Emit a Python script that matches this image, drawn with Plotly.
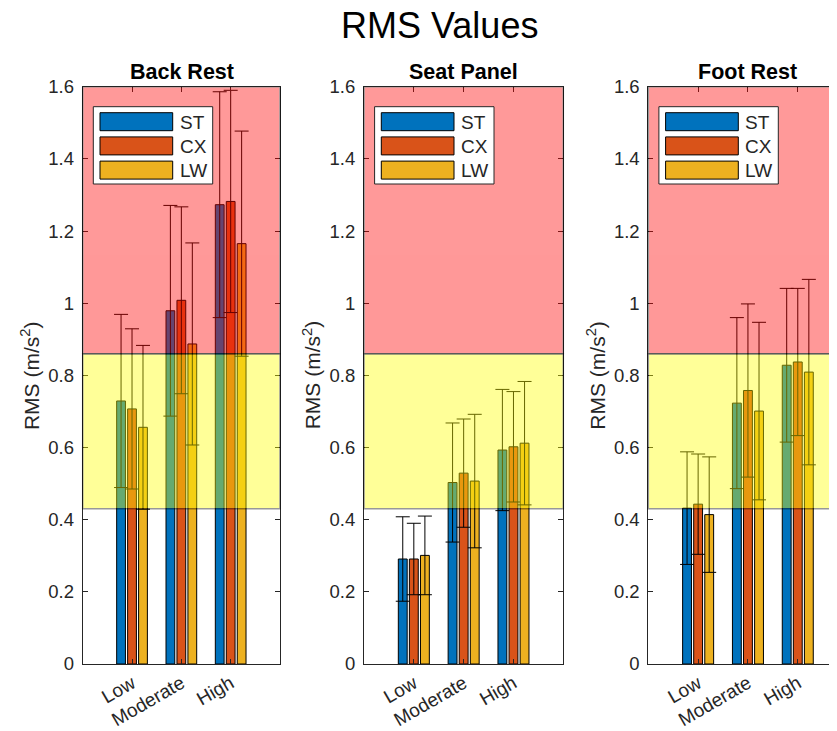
import plotly.graph_objects as go

# ---------------- data ----------------
categories = ["Low", "Moderate", "High"]
series_names = ["ST", "CX", "LW"]
panel_titles = ["Back Rest", "Seat Panel", "Foot Rest"]

back_st = [0.729, 0.979, 1.273]
back_cx = [0.707, 1.008, 1.282]
back_lw = [0.656, 0.887, 1.165]
back_st_err = [0.240, 0.292, 0.313]
back_cx_err = [0.222, 0.259, 0.308]
back_lw_err = [0.227, 0.280, 0.312]

seat_st = [0.291, 0.503, 0.593]
seat_cx = [0.291, 0.529, 0.602]
seat_lw = [0.301, 0.507, 0.612]
seat_st_err = [0.117, 0.165, 0.168]
seat_cx_err = [0.099, 0.150, 0.153]
seat_lw_err = [0.109, 0.185, 0.171]

foot_st = [0.432, 0.723, 0.828]
foot_cx = [0.443, 0.758, 0.837]
foot_lw = [0.414, 0.701, 0.809]
foot_st_err = [0.156, 0.237, 0.213]
foot_cx_err = [0.139, 0.240, 0.204]
foot_lw_err = [0.160, 0.246, 0.257]

caution_zone = [0.43, 0.86]
danger_zone = [0.86, 1.6]
y_ticks = [0, 0.2, 0.4, 0.6, 0.8, 1.0, 1.2, 1.4, 1.6]

# ---------------- style ----------------
PAGE_OFF = 8  # default body margin of the html page
W, H = 837 - PAGE_OFF, 731 - PAGE_OFF
colors = ["#0072BD", "#D95319", "#EDB120"]
axis_col = "#262626"
font_family = "Liberation Sans, Arial, sans-serif"

# panel pixel geometry in window coordinates
panels_px = [(82.7, 280.0), (364.0, 563.3), (648.3, 837.0)]
unit_px = (563.3 - 364.0) / 4
x_ranges = [[0, 4], [0, 4], [0, (837.0 - 648.3) / unit_px]]
top_px, bot_px = 86.7, 664.0


def px(x):
    return (x - PAGE_OFF) / W


def py(y):
    return 1 - (y - PAGE_OFF) / H


panel_data = [
    ([back_st, back_cx, back_lw], [back_st_err, back_cx_err, back_lw_err]),
    ([seat_st, seat_cx, seat_lw], [seat_st_err, seat_cx_err, seat_lw_err]),
    ([foot_st, foot_cx, foot_lw], [foot_st_err, foot_cx_err, foot_lw_err]),
]

fig = go.Figure()
xpos = [1, 2, 3]

for p, (vals, errs) in enumerate(panel_data):
    sfx = "" if p == 0 else str(p + 1)
    for s in range(3):
        fig.add_trace(go.Bar(
            x=xpos, y=vals[s], name=series_names[s],
            marker=dict(color=colors[s], line=dict(color="black", width=1)),
            error_y=dict(type="data", array=errs[s], visible=True,
                         color="black", thickness=1, width=7),
            xaxis="x" + sfx, yaxis="y" + sfx, showlegend=False,
        ))

layout = dict(
    width=W, height=H,
    margin=dict(l=0, r=0, t=0, b=0, pad=0, autoexpand=False),
    paper_bgcolor="white", plot_bgcolor="white",
    barmode="group", bargap=0.333, bargroupgap=0.2,
    font=dict(family=font_family, color=axis_col),
    showlegend=False,
)

shapes = []
annotations = []

for p in range(3):
    sfx = "" if p == 0 else str(p + 1)
    l, r = panels_px[p]
    layout["xaxis" + sfx] = dict(
        domain=[px(l), min(px(r), 1.0)], anchor="y" + sfx, range=x_ranges[p],
        tickvals=xpos, ticktext=categories, tickangle=-30,
        ticks="inside", ticklen=5, tickcolor=axis_col,
        showline=True, linecolor=axis_col, linewidth=1, mirror="ticks",
        showgrid=False, zeroline=False, automargin=False,
        tickfont=dict(size=19, color=axis_col, family=font_family),
    )
    layout["yaxis" + sfx] = dict(
        domain=[py(bot_px), py(top_px)], anchor="x" + sfx, range=[0, 1.6],
        tickvals=y_ticks, ticks="inside", ticklen=5, tickcolor=axis_col,
        showline=True, linecolor=axis_col, linewidth=1,
        mirror=("ticks" if p < 2 else False),
        showgrid=False, zeroline=False, ticklabelstandoff=4, automargin=False,
        tickfont=dict(size=18.5, color=axis_col, family=font_family),
    )

    # comfort zones overlaid on the bars
    for (z0, z1), zc in ((caution_zone, "yellow"), (danger_zone, "red")):
        shapes.append(dict(
            type="rect", xref="x" + sfx + " domain", yref="y" + sfx,
            x0=0, x1=1, y0=z0, y1=z1, fillcolor=zc, opacity=0.4,
            line=dict(color="black", width=1.5), layer="above",
        ))

    # legend box
    shapes.append(dict(
        type="rect", xref="paper", yref="paper",
        x0=px(l + 10.6), x1=px(l + 130.0), y0=py(top_px + 97.3), y1=py(top_px + 20.0),
        fillcolor="white", line=dict(color=axis_col, width=1), layer="above",
    ))
    for s in range(3):
        rt = top_px + 26.0 + s * 24.2
        shapes.append(dict(
            type="rect", xref="paper", yref="paper",
            x0=px(l + 17.3), x1=px(l + 90.0), y0=py(rt + 18.0), y1=py(rt),
            fillcolor=colors[s], line=dict(color="black", width=1), layer="above",
        ))
        annotations.append(dict(
            text=series_names[s], xref="paper", yref="paper",
            x=px(l + 95.0), y=py(rt + 9.5), xanchor="left", yanchor="middle",
            showarrow=False, font=dict(size=19, color=axis_col, family=font_family),
        ))

    # panel title
    pw = (563.3 - 364.0)
    annotations.append(dict(
        text="<b>" + panel_titles[p] + "</b>", xref="paper", yref="paper",
        x=px(l + pw / 2), y=py(72), xanchor="center", yanchor="middle",
        showarrow=False, font=dict(size=21.5, color="black", family=font_family),
    ))
    # y label
    annotations.append(dict(
        text="RMS (m/s<sup>2</sup>)", xref="paper", yref="paper",
        x=px(l - 52), y=py((top_px + bot_px) / 2), xanchor="center", yanchor="middle",
        textangle=-90, showarrow=False,
        font=dict(size=21, color=axis_col, family=font_family),
    ))

annotations.append(dict(
    text="RMS Values", xref="paper", yref="paper",
    x=px(439), y=py(25), xanchor="center", yanchor="middle",
    showarrow=False, font=dict(size=36, color="black", family=font_family),
))

layout["shapes"] = shapes
layout["annotations"] = annotations
fig.update_layout(**layout)

fig.write_html("out.html")
